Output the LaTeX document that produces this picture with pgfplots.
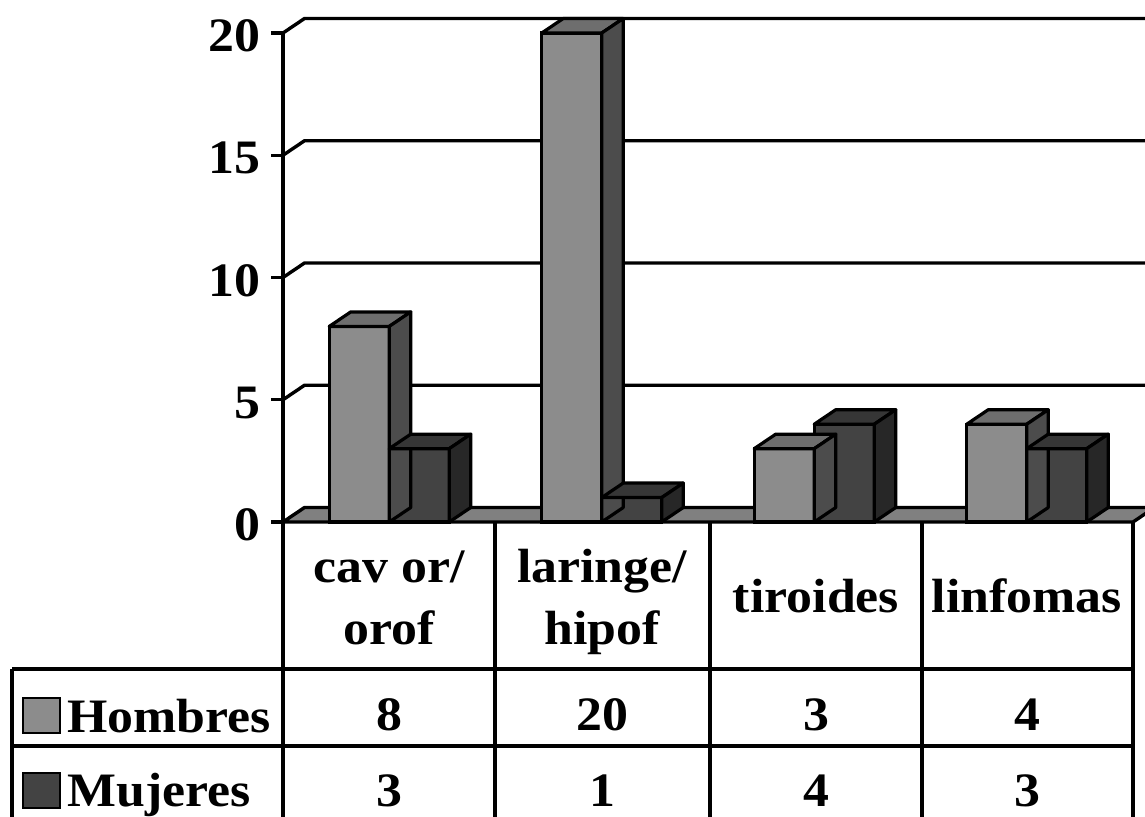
\documentclass[border=0pt]{standalone}
\usepackage{fontspec}
\setmainfont[FakeStretch=1.08]{Liberation Serif}
\usepackage{pgfplots}
\usepackage{pgfplotstable}
\pgfplotsset{compat=1.18}
\definecolor{hfront}{HTML}{8C8C8C}
\definecolor{htop}{HTML}{6E6E6E}
\definecolor{hside}{HTML}{4C4C4C}
\definecolor{mfront}{HTML}{434343}
\definecolor{mtop}{HTML}{363636}
\definecolor{mside}{HTML}{272727}
\definecolor{floorc}{HTML}{808080}
\newcommand\tfont{\fontsize{24pt}{31pt}\selectfont\bfseries}
% 3D top and side faces of a bar; #1 left edge offset (pt), #2 top colour, #3 side colour
\newcommand\cubemark[3]{%
  \pgfmathsetmacro\hh{\hval*12.225}%
  \pgfmathsetmacro\xl{#1}\pgfmathsetmacro\xr{#1+30}%
  \pgfsetlinewidth{1.6pt}\pgfsetstrokecolor{black}\pgfsetroundjoin
  \pgfsetfillcolor{#2}%
  \pgfpathmoveto{\pgfpoint{\xl pt}{0pt}}%
  \pgfpathlineto{\pgfpoint{\xr pt}{0pt}}%
  \pgfpathlineto{\pgfpoint{\xr pt+10.75pt}{7.25pt}}%
  \pgfpathlineto{\pgfpoint{\xl pt+10.75pt}{7.25pt}}%
  \pgfpathclose\pgfusepath{fill,stroke}%
  \pgfsetfillcolor{#3}%
  \pgfpathmoveto{\pgfpoint{\xr pt}{0pt}}%
  \pgfpathlineto{\pgfpoint{\xr pt+10.75pt}{7.25pt}}%
  \pgfpathlineto{\pgfpoint{\xr pt+10.75pt}{7.25pt-\hh pt}}%
  \pgfpathlineto{\pgfpoint{\xr pt}{-\hh pt}}%
  \pgfpathclose\pgfusepath{fill,stroke}%
}
\pgfdeclareplotmark{cubeH}{\cubemark{-30}{htop}{hside}}
\pgfdeclareplotmark{cubeM}{\cubemark{0}{mtop}{mside}}

\pgfplotstableread{
x   h  m
0.5 8  3
1.5 20 1
2.5 3  4
3.5 4  3
}\datatab

\begin{document}
\begin{tikzpicture}[x=0.5pt,y=0.5pt]
\useasboundingbox (0,0) rectangle (1145,816);
\clip (0,0) rectangle (1145,816);
\begin{axis}[
  at={(141.5pt,147pt)}, anchor=south west,
  scale only axis, width=425pt, height=244.5pt,
  xmin=0, xmax=4, ymin=0, ymax=20,
  enlargelimits=false, clip=false,
  axis x line=none, axis y line*=left,
  y axis line style={line width=1.7pt},
  xtick=\empty, ytick={0,5,10,15,20},
  tick align=outside, major tick length=6pt,
  ytick style={line width=1.7pt, black},
  /pgf/number format/assume math mode=true,
  yticklabel style={font=\tfont, anchor=east, inner sep=0pt, xshift=-5pt, yshift=-1.5pt},
]
% back wall grid lines
\pgfplotsinvokeforeach{5,10,15,20}{
  \draw[line width=1.7pt] (axis cs:0,#1) -- ++(10.75pt,7.25pt) -- ([shift={(10.75pt,7.25pt)}]axis cs:4,#1);
}
% floor
\filldraw[fill=floorc, line width=1.7pt, line join=round] (axis cs:0,0) -- (axis cs:4,0) -- ++(10.75pt,7.25pt) -- ([shift={(10.75pt,7.25pt)}]axis cs:0,0) -- cycle;
% Hombres
\addplot[ybar, bar width=30pt, bar shift=-15pt, fill=hfront, draw=black, line width=1.6pt] table[x=x,y=h]{\datatab};
\addplot[only marks, mark=cubeH, visualization depends on={rawy \as \hval}] table[x=x,y=h]{\datatab};
% Mujeres
\addplot[ybar, bar width=30pt, bar shift=15pt, fill=mfront, draw=black, line width=1.6pt] table[x=x,y=m]{\datatab};
\addplot[only marks, mark=cubeM, visualization depends on={rawy \as \hval}] table[x=x,y=m]{\datatab};
\end{axis}
% data table
\begin{scope}[line width=1.7pt]
\foreach \xx in {283,495,710,922,1133} \draw (\xx,294) -- (\xx,-20);
\draw (12,147) -- (1133,147);
\draw (12,70) -- (1133,70);
\draw (12,147) -- (12,-20);
\end{scope}
\begin{scope}[every node/.style={font=\tfont, inner sep=0pt}]
\node[anchor=base] at (389,234) {cav or/};
\node[anchor=base] at (389,172) {orof};
\node[anchor=base] at (602,234) {laringe/};
\node[anchor=base] at (602,172) {hipof};
\node[anchor=base] at (816,204) {tiroides};
\node[anchor=base] at (1027,204) {linfomas};
\node[anchor=base] at (389,86) {8};
\node[anchor=base] at (602,86) {20};
\node[anchor=base] at (816,86) {3};
\node[anchor=base] at (1027,86) {4};
\node[anchor=base] at (389,10) {3};
\node[anchor=base] at (602,10) {1};
\node[anchor=base] at (816,10) {4};
\node[anchor=base] at (1027,10) {3};
\filldraw[fill=hfront, line width=1.4pt] (23,83) rectangle (60,118);
\node[anchor=base west] at (67,84) {Hombres};
\filldraw[fill=mfront, line width=1.4pt] (23,8) rectangle (60,43);
\node[anchor=base west] at (67,10) {Mujeres};
\end{scope}
\end{tikzpicture}
\end{document}
